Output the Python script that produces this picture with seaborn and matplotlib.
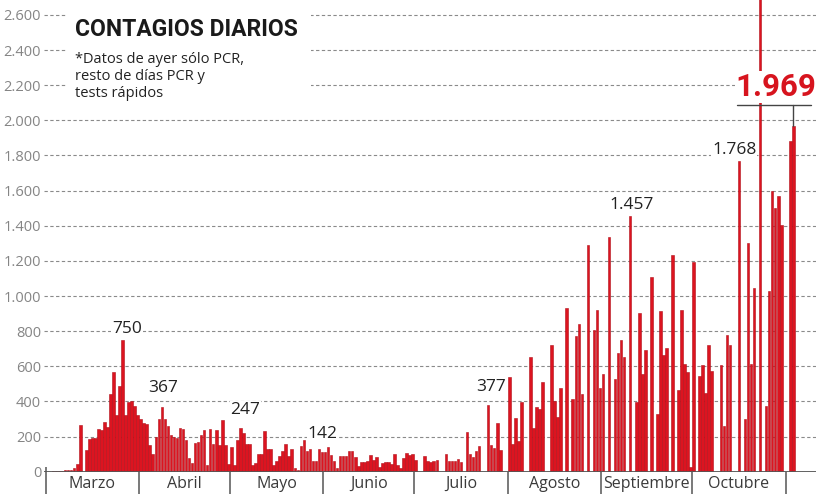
import numpy as np
import pandas as pd
import matplotlib
matplotlib.use("Agg")
import matplotlib.pyplot as plt
import seaborn as sns
from matplotlib.patches import Rectangle
from matplotlib.transforms import blended_transform_factory

# contagios diarios, un valor por dia desde el 1 de marzo
marzo = [1, 1, 2, 2, 3, 3, 10, 12, 12, 20, 45, 265, 0, 125, 185, 190, 190, 242, 235, 284,
         255, 440, 570, 320, 485, 750, 320, 395, 400, 375, 320]
abril = [300, 280, 270, 150, 100, 200, 300, 367, 300, 260, 210, 200, 190, 250, 245, 180,
         80, 50, 165, 170, 210, 240, 40, 245, 160, 240, 150, 295, 150, 45]
mayo = [140, 40, 178, 247, 220, 160, 160, 40, 50, 100, 100, 232, 130, 130, 40, 60, 90, 120,
        158, 90, 128, 20, 10, 145, 180, 120, 130, 60, 60, 130, 110]
junio = [110, 142, 93, 63, 20, 87, 87, 87, 119, 115, 83, 34, 53, 57, 63, 97, 67, 83, 28, 48,
         53, 57, 44, 103, 40, 20, 79, 109, 93, 99]
julio = [67, 0, 0, 91, 63, 57, 59, 67, 0, 0, 99, 63, 59, 59, 75, 53, 0, 228, 99, 83, 119,
         147, 0, 0, 377, 152, 133, 275, 123, 0, 0]
agosto = [541, 160, 305, 175, 396, 0, 0, 651, 246, 366, 358, 512, 0, 0, 724, 404, 309, 476,
          0, 933, 0, 411, 770, 842, 442, 0, 1290, 0, 808, 918, 474]
septiembre = [556, 0, 1337, 0, 528, 674, 750, 655, 0, 1457, 0, 394, 905, 556, 695, 0, 1109,
              0, 328, 912, 663, 705, 0, 1236, 0, 465, 918, 613, 570, 25]
octubre = [1194, 0, 544, 610, 449, 724, 573, 0, 0, 610, 260, 777, 724, 0, 0, 1768, 0, 298,
           1303, 614, 1047, 0, 2900, 0, 373, 1031, 1596, 1502, 1572, 1407, 0]
noviembre = [0, 1885, 1969]

meses = ["Marzo", "Abril", "Mayo", "Junio", "Julio", "Agosto", "Septiembre", "Octubre"]
dias_mes = [31, 30, 31, 30, 31, 31, 30, 31]

# etiquetas de maximos: dia de la barra, texto, desplazamiento (dias, casos)
etiqueta_dias = [25, 38, 64, 93, 146, 193, 229]
etiqueta_textos = ["750", "367", "247", "142", "377", "1.457", "1.768"]
etiqueta_dx = [1.5, 0.4, 1.6, -1.9, 0.8, 0.6, -1.6]
etiqueta_dy = [17, 64, 58, 27, 60, 15, 15]

valores = marzo + abril + mayo + junio + julio + agosto + septiembre + octubre + noviembre
df = pd.DataFrame({"dia": np.arange(len(valores)), "casos": valores})

rojo = "#dc1420"

sns.set_style("white")
plt.rcParams["font.family"] = ["Open Sans", "DejaVu Sans"]

fig = plt.figure(figsize=(8.16, 4.96), dpi=100)
ax = fig.add_axes([44 / 816, 24.3 / 496, 772 / 816, 471.7 / 496])

sns.barplot(data=df, x="dia", y="casos", native_scale=True, width=0.85, color=rojo,
            saturation=1, errorbar=None, edgecolor="#b0101a", linewidth=0.4, ax=ax, zorder=3)

ax.set_xlim(-1, 254.5)
ax.set_ylim(0, 2685)
yt = list(range(0, 2601, 200))
ax.set_yticks(yt)
ax.set_yticklabels([f"{v:,}".replace(",", ".") for v in yt])
ax.set_xticks([])
ax.set_xlabel("")
ax.set_ylabel("")
ax.tick_params(axis="y", length=0, pad=2, labelsize=10.5, labelcolor="#858585")
for s in ax.spines.values():
    s.set_visible(False)
ax.set_axisbelow(True)
ax.yaxis.grid(True, linestyle=(0, (3, 2.2)), color="#8a8a8a", lw=0.8)
ax.axhline(0, color="#555555", lw=1.3, zorder=4)

# separadores y nombres de mes bajo el eje
trans = blended_transform_factory(ax.transData, ax.transAxes)
inicio = np.concatenate([[0], np.cumsum(dias_mes)])
ax.vlines(inicio - 0.5, -0.047, 0, transform=trans, color="#555555", lw=1.1, clip_on=False)
ax.vlines(-0.5, 0, 0.01, transform=trans, color="#555555", lw=1.1, clip_on=False)
for mes, ini, n in zip(meses, inicio, dias_mes):
    ax.text(ini + n / 2 - 0.5, -0.026, mes, transform=trans, ha="center", va="center",
            fontsize=11.5, color="#3a3a3a")

# etiquetas de valores
for d, t, dx, dy in zip(etiqueta_dias, etiqueta_textos, etiqueta_dx, etiqueta_dy):
    ax.text(d + dx, valores[d] + dy, t, ha="center", va="bottom", fontsize=12.5,
            color="#222222", zorder=5,
            bbox=dict(facecolor="white", edgecolor="none", pad=0.5))

# ultimo dato destacado
ultimo = len(valores) - 1
ax.text(ultimo - 5.7, 2105, "1.969", ha="center", va="bottom", fontsize=22.5,
        fontweight="bold", family=["Roboto", "DejaVu Sans"], color="#d7141e", zorder=5,
        bbox=dict(facecolor="white", edgecolor="none", pad=0.5))
ax.plot([ultimo - 18.6, ultimo + 5.7], [2090, 2090], color="#444444", lw=1, zorder=6)
ax.plot([ultimo, ultimo], [2090, valores[ultimo]], color="#444444", lw=1, zorder=6)

# titulo con fondo blanco sobre la rejilla
ax.add_patch(Rectangle((0.0285, 0.767), 0.318, 0.222, transform=ax.transAxes,
                       facecolor="white", edgecolor="none", zorder=2))
ax.text(0.040, 0.9385, "CONTAGIOS DIARIOS", transform=ax.transAxes, ha="left",
        va="center", fontsize=16.5, fontweight="bold", family=["Roboto", "DejaVu Sans"],
        color="#1a1a1a", zorder=5)
ax.text(0.040, 0.889, "*Datos de ayer sólo PCR,\nresto de días PCR y\ntests rápidos",
        transform=ax.transAxes, ha="left", va="top", fontsize=10.5, linespacing=1.15,
        color="#222222", zorder=5)

fig.savefig("out.png", dpi=100)
